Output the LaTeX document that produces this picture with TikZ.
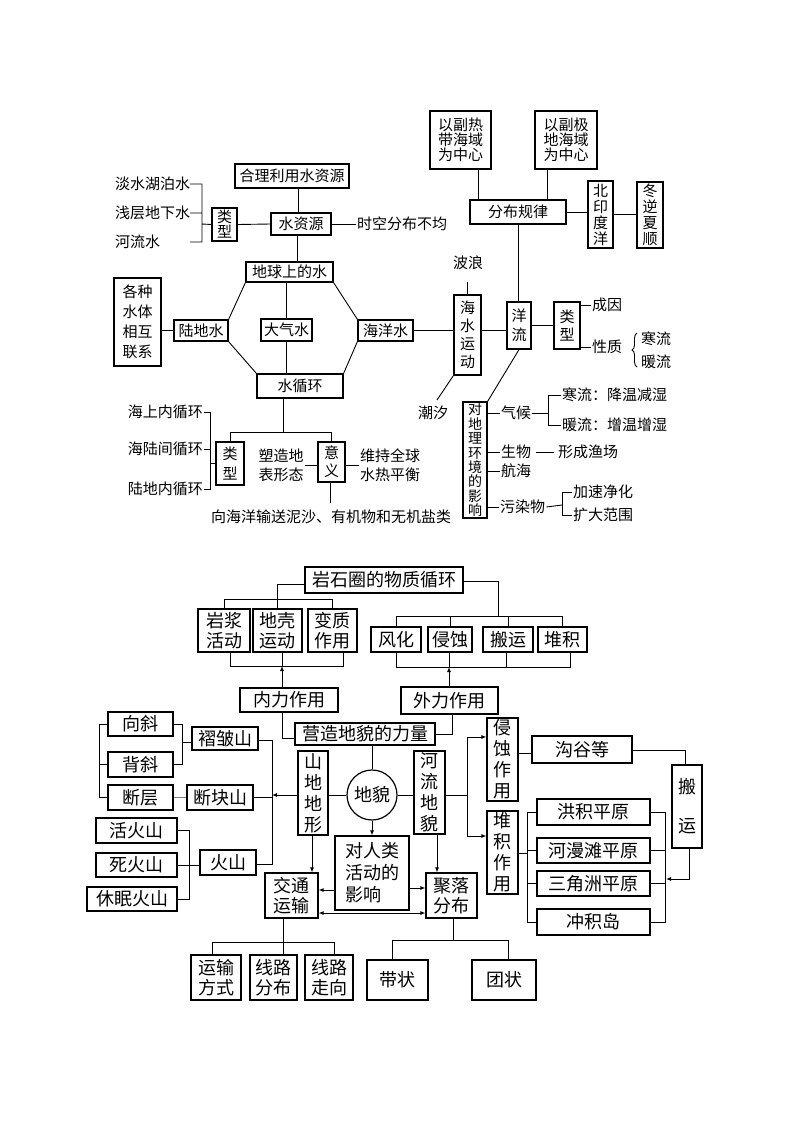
\documentclass[tikz,border=0pt]{standalone}
\usepackage{fontspec}
\setmainfont{Noto Sans CJK SC}
\usetikzlibrary{arrows.meta,decorations.pathreplacing}
\newcommand\Bx[7][]{\node[boxst,minimum width={(#5)-(#3)},minimum height={(#6)-(#4)},#1] (#2) at ({((#3)+(#5))/2},{((#4)+(#6))/2}) {#7};}
\begin{document}
\begin{tikzpicture}[x=1pt,y=-1pt,
  ft/.style={font=\fontsize{15}{#1}\selectfont}, ft/.default=17,
  fb/.style={font=\fontsize{18}{#1}\selectfont}, fb/.default=21,
  boxst/.style={draw, line width=1.2pt, inner sep=0pt, align=center},
  txt/.style={inner sep=1pt, align=left},
  ln/.style={line width=0.9pt},
  arr/.style={line width=0.9pt, -{Latex[length=5pt,width=4pt]}}]
\fill[white] (0,0) rectangle (800,1132);
\useasboundingbox (0,0) rectangle (800,1132);
% ================= TOP =================
\Bx[ft]{hl}{235}{164}{349}{188}{合理利用水资源}
\Bx[ft]{szy}{271}{213}{331}{235}{水资源}
\node[txt,ft,anchor=west] (skfb) at (356,224) {时空分布不均};
\Bx[ft=15]{lxa}{212}{208}{237}{241}{类\\型}
\node[txt,ft,anchor=west] (dshb) at (114,184) {淡水湖泊水};
\node[txt,ft,anchor=west] (qcdx) at (114,213) {浅层地下水};
\node[txt,ft,anchor=west] (hls) at (114,242) {河流水};
\Bx[ft]{dq}{246}{262}{333}{282}{地球上的水}
\Bx[ft=20]{gz}{114}{278}{161}{366}{各种\\水体\\相互\\联系}
\Bx[ft]{ldw}{174}{320}{228}{341}{陆地水}
\Bx[ft]{dqw}{261}{319}{312}{341}{大气水}
\Bx[ft]{hyw}{358}{320}{413}{341}{海洋水}
\Bx[ft]{sxh}{257}{374}{343}{398}{水循环}
\Bx[ft=20]{lxb}{216}{442}{244}{485}{类\\型}
\Bx[ft=18]{yy}{318}{442}{345}{482}{意\\义}
\node[txt,ft,anchor=east] (hsn) at (204,412) {海上内循环};
\node[txt,ft,anchor=east] (hlj) at (204,449) {海陆间循环};
\node[txt,ft,anchor=east] (ldn) at (204,489) {陆地内循环};
\node[txt,ft=19] (szd) at (281,465) {塑造地\\表形态};
\node[txt,ft=19,anchor=west] (wc) at (359,465) {维持全球\\水热平衡};
\node[txt,ft,anchor=west] (xhy) at (210,517) {向海洋输送泥沙、有机物和无机盐类};
\Bx[ft=15]{fr}{430}{111}{491}{169}{以副热\\带海域\\为中心}
\Bx[ft=15]{fj}{535}{111}{597}{169}{以副极\\地海域\\为中心}
\Bx[ft]{fbgl}{470}{200}{566}{224}{分布规律}
\Bx[ft=16]{byd}{588}{181}{613}{248}{北\\印\\度\\洋}
\Bx[ft=16,line width=1.6pt]{dnxs}{637}{182}{663}{248}{冬\\逆\\夏\\顺}
\node[txt,ft] (bl) at (468,263) {波浪};
\Bx[ft=18]{hsyd}{454}{295}{481}{375}{海\\水\\运\\动}
\node[txt,ft] (cx) at (433,413) {潮汐};
\Bx[ft=19]{yl}{507}{302}{531}{349}{洋\\流}
\Bx[ft=18]{lxc}{554}{302}{580}{349}{类\\型}
\node[txt,ft,anchor=west] (cy) at (591,305) {成因};
\node[txt,ft,anchor=west] (xz) at (591,347) {性质};
\node[txt,ft,anchor=west] (hanl) at (640,339) {寒流};
\node[txt,ft,anchor=west] (nuanl) at (640,362) {暖流};
\Bx[font=\fontsize{14}{14.4}\selectfont]{dl}{463}{402}{487}{518}{对\\地\\理\\环\\境\\的\\影\\响}
\node[txt,ft,anchor=west] (qh) at (500,413) {气候};
\node[txt,ft,anchor=west] (hl1) at (561,395) {寒流：降温减湿};
\node[txt,ft,anchor=west] (hl2) at (561,425) {暖流：增温增湿};
\node[txt,ft,anchor=west] (sw) at (500,452) {生物};
\node[txt,ft,anchor=west] (xc) at (557,452) {形成渔场};
\node[txt,ft,anchor=west] (hh) at (500,471) {航海};
\node[txt,ft,anchor=west] (wr) at (499,507) {污染物};
\node[txt,ft,anchor=west] (js) at (572,492) {加速净化};
\node[txt,ft,anchor=west] (kd) at (572,515) {扩大范围};
% top connectors
\draw[ln] (hl.south -| 298,0) -- (szy.north -| 298,0);
\draw[ln] (szy.east) -- (skfb.west);
\draw[ln] (lxa.east) -- (szy.west);
\draw[ln] (190,184) -- (202,184) -- (202,242) -- (190,242) (190,213) -- (202,213) (202,224) -- (lxa.west);
\draw[ln] (szy.south -| 297,0) -- (dq.north -| 297,0);
\draw[ln] (dq.south west) -- (ldw.north east);
\draw[ln] (ldw.south east) -- (sxh.north west);
\draw[ln] (dq.south east) -- (hyw.north west);
\draw[ln] (hyw.south west) -- (sxh.north east);
\draw[ln] (dqw.north) -- (dqw.north |- dq.south);
\draw[ln] (dqw.south) -- (dqw.south |- sxh.north);
\draw[ln] (gz.east |- ldw.west) -- (ldw.west);
\draw[ln] (hyw.east) -- (hyw.east -| hsyd.west);
\draw[ln] (hsyd.east |- 0,330) -- (yl.west |- 0,330);
\draw[ln] (hsyd.north) -- (hsyd.north |- 0,282);
\draw[ln] (hsyd.south west) -- (437,400);
\draw[ln] (fr.south -| 478,0) -- (fbgl.north -| 478,0);
\draw[ln] (fj.south -| 547,0) -- (fbgl.north -| 547,0);
\draw[ln] (fbgl.east) -- (fbgl.east -| byd.west);
\draw[ln] (byd.east) -- (byd.east -| dnxs.west);
\draw[ln] (fbgl.south) -- (fbgl.south |- yl.north);
\draw[ln] (yl.east) -- (yl.east -| lxc.west);
\draw[ln] (lxc.east |- cy.west) -- (cy.west);
\draw[ln] (lxc.east |- xz.west) -- (xz.west);
\draw[ln,decorate,decoration={brace,amplitude=5pt}] (637,367) -- (637,333);
\draw[ln] (yl.south) -- (dl.north east);
\draw[ln] (dl.east |- qh.west) -- (qh.west);
\draw[ln] (qh.east) -- (548,413);
\draw[ln] (hl1.west) -- (548,395) -- (548,425) -- (hl2.west);
\draw[ln] (dl.east |- sw.west) -- (sw.west);
\draw[ln] ([xshift=4pt]sw.east) -- ([xshift=-3pt]xc.west);
\draw[ln] (dl.east |- hh.west) -- (hh.west);
\draw[ln] (dl.east |- wr.west) -- (wr.west);
\draw[ln] (wr.east) -- (562,505);
\draw[ln] (js.west) -- (562,492) -- (562,515) -- (kd.west);
\draw[ln] (sxh.south -| 283,0) -- (283,432);
\draw[ln] (lxb.north) -- (lxb.north |- 0,432) -- (yy.north |- 0,432) -- (yy.north);
\draw[ln] (hsn.east) -- (210,412) -- (210,489) -- (ldn.east) (hlj.east) -- (210,449) (210,463) -- (lxb.west |- 0,463);
\draw[ln] (szd.east) -- (yy.west |- szd.east);
\draw[ln] (yy.east |- wc.west) -- (wc.west);
\draw[ln] (yy.south -| 330,0) -- (330,503);
% ================= BOTTOM =================
\Bx[fb]{ysq}{305}{567}{463}{593}{岩石圈的物质循环}
\Bx[fb=20]{yj}{198}{609}{250}{652}{岩浆\\活动}
\Bx[fb=20]{dk}{253}{609}{302}{652}{地壳\\运动}
\Bx[fb=20]{bz}{308}{609}{357}{652}{变质\\作用}
\Bx[fb]{fh}{371}{627}{421}{652}{风化}
\Bx[fb]{qs}{428}{627}{472}{652}{侵蚀}
\Bx[fb]{by}{483}{627}{533}{652}{搬运}
\Bx[fb]{dj}{538}{627}{587}{652}{堆积}
\Bx[fb]{nl}{240}{688}{338}{712}{内力作用}
\Bx[fb]{wl}{401}{687}{498}{714}{外力作用}
\Bx[fb]{yz}{295}{723}{435}{745}{营造地貌的力量}
\node[draw,circle,line width=1.2pt,minimum size=50pt,inner sep=0pt,fb] (dm) at (372,795) {地貌};
\Bx[fb=21]{sd}{298}{751}{328}{835}{山\\地\\地\\形}
\Bx[fb=21]{hlv}{414}{751}{445}{834}{河\\流\\地\\貌}
\Bx[fb=22,align=left]{dr}{335}{836}{409}{910}{对人类\\活动的\\影响}
\Bx[fb=20]{jt}{265}{873}{318}{918}{交通\\运输}
\Bx[fb=20]{jl}{426}{873}{477}{918}{聚落\\分布}
\Bx[fb]{zz}{192}{727}{258}{750}{褶皱山}
\Bx[fb]{xx}{108}{712}{173}{736}{向斜}
\Bx[fb]{bx}{108}{752}{173}{777}{背斜}
\Bx[fb]{dc}{108}{785}{173}{810}{断层}
\Bx[fb]{dks}{187}{785}{253}{810}{断块山}
\Bx[fb]{hhs}{96}{818}{177}{843}{活火山}
\Bx[fb]{shs}{96}{853}{177}{877}{死火山}
\Bx[fb]{xm}{87}{887}{177}{911}{休眠火山}
\Bx[fb]{hs}{200}{850}{256}{875}{火山}
\Bx[fb=21]{qszy}{487}{718}{518}{801}{侵\\蚀\\作\\用}
\Bx[fb=21]{djzy}{487}{811}{518}{894}{堆\\积\\作\\用}
\Bx[fb]{gg}{532}{736}{632}{763}{沟谷等}
\Bx[fb]{byy}{672}{765}{702}{848}{搬\\[18pt]运}
\Bx[fb]{hj}{537}{799}{650}{825}{洪积平原}
\Bx[fb]{hm}{537}{838}{650}{863}{河漫滩平原}
\Bx[fb]{sj}{537}{871}{650}{896}{三角洲平原}
\Bx[fb]{cj}{537}{909}{650}{935}{冲积岛}
\Bx[fb=20]{ysfs}{191}{955}{241}{1000}{运输\\方式}
\Bx[fb=20]{xlfb}{250}{955}{297}{1000}{线路\\分布}
\Bx[fb=20]{xlzx}{305}{955}{353}{1000}{线路\\走向}
\Bx[fb]{dz}{367}{960}{428}{1000}{带状}
\Bx[fb]{tz}{472}{960}{536}{1000}{团状}
% bottom connectors
\draw[ln] (ysq.west |- 0,584) -- (277,584) -- (dk.north -| 277,0);
\draw[ln] (yj.north) -- (yj.north |- 0,599) -- (bz.north |- 0,599) -- (bz.north);
\draw[ln] (yj.south -| 230,0) -- (230,666) -- (343,666) -- (bz.south -| 343,0);
\draw[ln] (dk.south -| 282,0) -- (282,666);
\draw[arr] (nl.north -| 282,0) -- (282,666);
\draw[ln] (ysq.east |- 0,581) -- (498,581) -- (498,616);
\draw[ln] (fh.north) -- (fh.north |- 0,616) -- (dj.north |- 0,616) -- (dj.north);
\draw[ln] (qs.north) -- (qs.north |- 0,616) (by.north) -- (by.north |- 0,616);
\draw[ln] (fh.south) -- (fh.south |- 0,667) -- (570,667) -- (dj.south -| 570,0);
\draw[ln] (qs.south -| 449,0) -- (449,667) (by.south -| 506,0) -- (506,667);
\draw[arr] (wl.north -| 449,0) -- (449,667);
\draw[ln] (nl.south -| 282,0) -- (282,738) -- (yz.west |- 0,738);
\draw[ln] (wl.south -| 452,0) -- (452,734) -- (yz.east |- 0,734);
\draw[ln] (yz.south -| dm.north) -- (dm.north);
\draw[ln] (dm.west) -- (sd.east |- dm.west);
\draw[ln] (dm.east) -- (hlv.west |- dm.east);
\draw[arr] (sd.west |- dm.west) -- (272,795);
\draw[ln] (zz.east |- 0,740) -- (272,740) -- (272,864) -- (hs.east |- 0,864);
\draw[ln] (dks.east) -- (dks.east -| 272,0);
\draw[ln] (xx.east) -- (182,724) -- (182,764.5) -- (bx.east);
\draw[ln] (182,742) -- (zz.west |- 0,742);
\draw[ln] (xx.west) -- (99,724) -- (99,797.5) -- (dc.west) (bx.west) -- (99,764.5);
\draw[line width=0.6pt,gray] (dc.east) -- (dks.west);
\draw[ln] (hhs.east) -- (189,830.5) -- (189,899) -- (xm.east);
\draw[ln] (shs.east) -- (hs.west |- shs.east);
\draw[arr] (sd.south -| 312,0) -- (jt.north -| 312,0);
\draw[arr] (dm.south) -- (dr.north);
\draw[arr] (dr.west |- 0,890) -- (jt.east |- 0,890);
\draw[arr] (dr.east |- 0,888) -- (jl.west |- 0,888);
\draw[arr] (hlv.south -| 437,0) -- (jl.north -| 437,0);
\draw[line width=0.9pt,{Latex[length=5pt,width=4pt]}-{Latex[length=5pt,width=4pt]}] (jt.east |- 0,913) -- (jl.west |- 0,913);
\draw[ln] (hlv.east |- dm.east) -- (467,795);
\draw[ln] (467,737) -- (467,836);
\draw[arr] (467,737) -- (qszy.west |- 0,737);
\draw[arr] (467,836) -- (djzy.west |- 0,836);
\draw[ln] (qszy.east |- 0,753) -- (gg.west |- 0,753);
\draw[ln] (gg.east |- 0,750) -- (685,750) -- (byy.north -| 685,0);
\draw[arr] (byy.south -| 689,0) -- (689,879) -- (666,879);
\draw[ln] (hj.east) -- (665,812) -- (665,922) -- (cj.east) (hm.east) -- (665,850.5) (sj.east) -- (665,883.5);
\draw[ln] (hj.west) -- (527,812) -- (527,922) -- (cj.west) (hm.west) -- (527,850.5) (sj.west) -- (527,883.5);
\draw[ln] (djzy.east |- 0,853) -- (527,853);
\draw[ln] (jt.south -| 283,0) -- (283,942) (ysfs.north -| 212,0) -- (212,942) -- (334,942) -- (xlzx.north -| 334,0) (283,942) -- (xlfb.north -| 283,0);
\draw[ln] (jl.south -| 453,0) -- (453,940) (dz.north -| 392,0) -- (392,940) -- (508,940) -- (tz.north -| 508,0);
\end{tikzpicture}
\end{document}
